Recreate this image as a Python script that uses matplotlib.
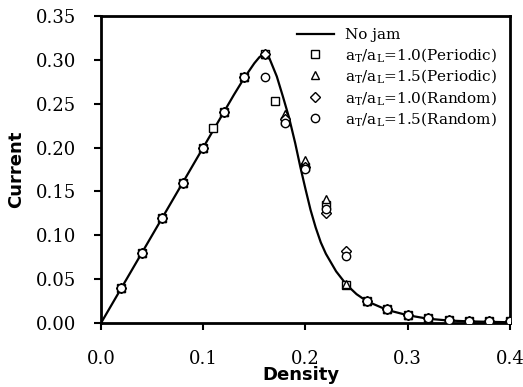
import numpy as np
import matplotlib
matplotlib.use("Agg")
import matplotlib.pyplot as plt

plt.rcParams['font.family'] = ['DejaVu Serif']
plt.rcParams['mathtext.fontset'] = 'dejavuserif'

# theory curve ("No jam")
line_x = [0.0, 0.13, 0.14, 0.15, 0.155, 0.16, 0.165, 0.172, 0.178, 0.184, 0.19,
          0.195, 0.20, 0.205, 0.21, 0.215, 0.22, 0.23, 0.24, 0.25, 0.26, 0.28, 0.30, 0.32,
          0.34, 0.36, 0.38, 0.40]
line_y = [0.0, 0.26, 0.279, 0.296, 0.303, 0.307, 0.301, 0.281, 0.258, 0.234, 0.205,
          0.178, 0.153, 0.129, 0.109, 0.092, 0.079, 0.059, 0.044, 0.033, 0.025, 0.015,
          0.009, 0.005, 0.003, 0.002, 0.0015, 0.001]

# aT/aL = 1.0 (Periodic)
p10_x = [0.02, 0.04, 0.06, 0.08, 0.10, 0.11, 0.12, 0.14, 0.16, 0.17, 0.18, 0.20,
         0.22, 0.24, 0.26, 0.28, 0.30, 0.32, 0.34, 0.36, 0.38, 0.40]
p10_y = [0.04, 0.08, 0.12, 0.16, 0.20, 0.222, 0.24, 0.28, 0.307, 0.253, 0.230, 0.178,
         0.135, 0.044, 0.025, 0.016, 0.009, 0.006, 0.004, 0.003, 0.003, 0.002]

# aT/aL = 1.5 (Periodic)
p15_x = [0.02, 0.04, 0.06, 0.08, 0.10, 0.12, 0.14, 0.16, 0.18, 0.20, 0.22, 0.24,
         0.26, 0.28, 0.30, 0.32, 0.34, 0.36, 0.38, 0.40]
p15_y = [0.04, 0.08, 0.12, 0.16, 0.20, 0.24, 0.28, 0.307, 0.238, 0.186, 0.141, 0.045,
         0.025, 0.016, 0.009, 0.006, 0.004, 0.003, 0.003, 0.002]

# aT/aL = 1.0 (Random)
r10_x = [0.02, 0.04, 0.06, 0.08, 0.10, 0.12, 0.14, 0.16, 0.18, 0.20, 0.22, 0.24,
         0.26, 0.28, 0.30, 0.32, 0.34, 0.36, 0.38, 0.40]
r10_y = [0.04, 0.08, 0.12, 0.16, 0.20, 0.24, 0.28, 0.306, 0.232, 0.178, 0.125, 0.082,
         0.025, 0.016, 0.009, 0.006, 0.004, 0.003, 0.003, 0.002]

# aT/aL = 1.5 (Random)
r15_x = [0.02, 0.04, 0.06, 0.08, 0.10, 0.12, 0.14, 0.16, 0.18, 0.20, 0.22, 0.24,
         0.26, 0.28, 0.30, 0.32, 0.34, 0.36, 0.38, 0.40]
r15_y = [0.04, 0.08, 0.12, 0.16, 0.20, 0.24, 0.28, 0.280, 0.228, 0.176, 0.130, 0.076,
         0.025, 0.016, 0.009, 0.006, 0.004, 0.003, 0.003, 0.002]

labels = ["No jam",
          r"a$_\mathrm{T}$/a$_\mathrm{L}$=1.0(Periodic)",
          r"a$_\mathrm{T}$/a$_\mathrm{L}$=1.5(Periodic)",
          r"a$_\mathrm{T}$/a$_\mathrm{L}$=1.0(Random)",
          r"a$_\mathrm{T}$/a$_\mathrm{L}$=1.5(Random)"]

fig = plt.figure(figsize=(5.23, 3.87), dpi=100)
ax = fig.add_axes([0.193, 0.165, 0.782, 0.794])

ax.plot(line_x, line_y, color='black', lw=1.6, label=labels[0], zorder=3)
mk = dict(linestyle='none', mfc='white', mec='black', mew=1.0, ms=6, zorder=4)
ax.plot(p10_x, p10_y, marker='s', label=labels[1], **mk)
ax.plot(p15_x, p15_y, marker='^', label=labels[2], **mk)
ax.plot(r10_x, r10_y, marker='D', label=labels[3], **dict(mk, ms=5))
ax.plot(r15_x, r15_y, marker='o', label=labels[4], **mk)

ax.set_xlim(0, 0.4)
ax.set_ylim(0, 0.35)
ax.set_xticks([0.0, 0.1, 0.2, 0.3, 0.4])
ax.set_yticks(np.arange(0, 0.351, 0.05))
ax.xaxis.set_major_formatter(matplotlib.ticker.FormatStrFormatter('%.1f'))
ax.yaxis.set_major_formatter(matplotlib.ticker.FormatStrFormatter('%.2f'))
ax.tick_params(direction='out', length=5, width=1.5, labelsize=13, top=False, right=False)
ax.tick_params(axis='x', pad=14)
ax.tick_params(axis='y', pad=13)
for s in ax.spines.values():
    s.set_linewidth(2.0)

ax.set_xlabel("Density", family='DejaVu Sans', fontweight='bold', fontsize=13)
ax.set_ylabel("Current", family='DejaVu Sans', fontweight='bold', fontsize=13)
ax.xaxis.set_label_coords(0.49, -0.14)
ax.yaxis.set_label_coords(-0.186, 0.5)

ax.legend(loc='upper right', bbox_to_anchor=(0.99, 0.99), frameon=False, fontsize=11,
          handlelength=2.4, handletextpad=0.7, labelspacing=0.24, borderaxespad=0.2)

fig.savefig("out.png", dpi=100)
